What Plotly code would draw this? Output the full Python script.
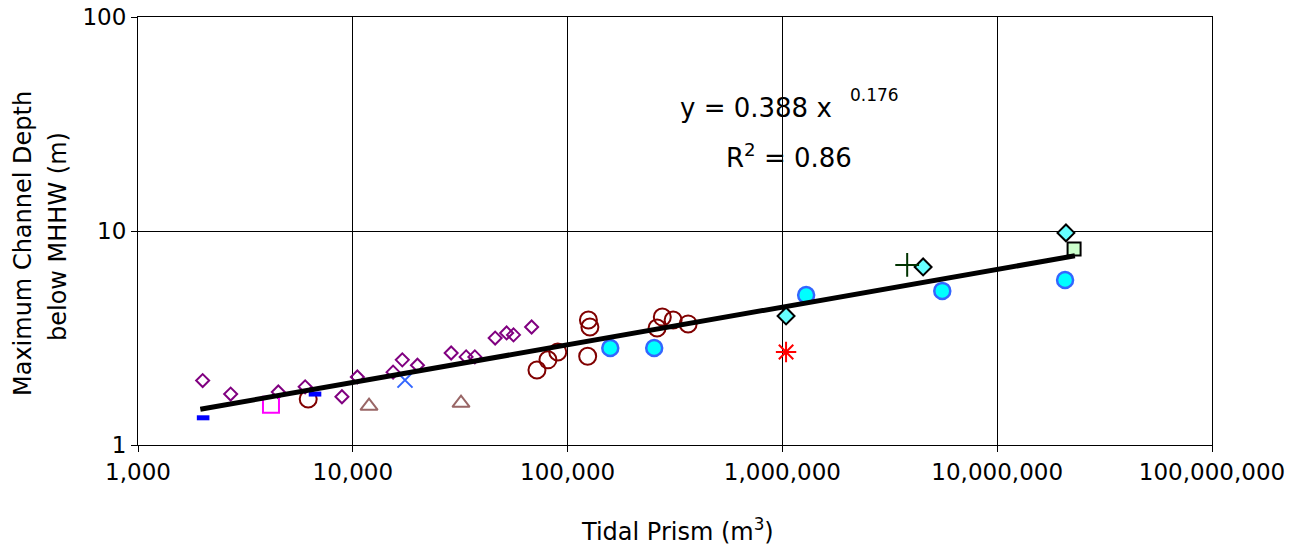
import plotly.graph_objects as go

# ---- data ----
diamond_x = [2000, 2700, 4500, 6000, 8900, 10500, 15400, 17000, 20000, 28700,
             33700, 37000, 46000, 52000, 56000, 68000]
diamond_y = [2.00, 1.73, 1.77, 1.87, 1.68, 2.08, 2.19, 2.50, 2.36, 2.69,
             2.58, 2.58, 3.16, 3.34, 3.27, 3.56]

circle_open_x = [6200, 72000, 81000, 90000, 125000, 127000, 124000, 261000, 276000, 310000, 364000]
circle_open_y = [1.64, 2.24, 2.50, 2.72, 3.84, 3.56, 2.60, 3.52, 3.96, 3.84, 3.68]

cyan_circle_x = [158000, 253000, 1290000, 5550000, 20700000]
cyan_circle_y = [2.84, 2.84, 5.02, 5.25, 5.90]

cyan_diamond_x = [1040000, 4520000, 20900000]
cyan_diamond_y = [4.01, 6.79, 9.80]

dash_x = [2010, 6670]
dash_y = [1.34, 1.73]

magenta_sq_x = [4160]
magenta_sq_y = [1.54]

triangle_x = [11900, 31900]
triangle_y = [1.52, 1.57]

xmark_x = [17500]
xmark_y = [2.01]

plus_x = [3810000]
plus_y = [6.94]

asterisk_x = [1040000]
asterisk_y = [2.72]

green_sq_x = [22800000]
green_sq_y = [8.24]

trend_x = [1950, 23000000]
trend_y = [1.47, 7.66]

x_tickvals = [1e3, 1e4, 1e5, 1e6, 1e7, 1e8]
x_ticktext = ["1,000", "10,000", "100,000", "1,000,000", "10,000,000", "100,000,000"]
y_tickvals = [1, 10, 100]
y_ticktext = ["1", "10", "100"]

FONT = "DejaVu Sans"

fig = go.Figure()

def add(xs, ys, symbol, size, color, lw, lcolor=None):
    fig.add_trace(go.Scatter(
        x=xs, y=ys, mode="markers",
        marker=dict(symbol=symbol, size=size, color=color,
                    line=dict(width=lw, color=lcolor if lcolor else color)),
        showlegend=False, hoverinfo="x+y"))

add(diamond_x, diamond_y, "diamond-open", 10, "#800080", 2)
add(circle_open_x, circle_open_y, "circle-open", 17, "#800000", 2)
add(magenta_sq_x, magenta_sq_y, "square-open", 16, "#ff00ff", 2)
add(triangle_x, triangle_y, "triangle-up-open", 15, "#996666", 2)
add(xmark_x, xmark_y, "x-thin-open", 15, "#3366ff", 2)
add(dash_x, dash_y, "line-ew-open", 9, "#0000ff", 5)
add(cyan_circle_x, cyan_circle_y, "circle", 16, "#00ffff", 2.5, "#3366ff")
add(cyan_diamond_x, cyan_diamond_y, "diamond", 13, "#66ffff", 2, "#000000")
add(plus_x, plus_y, "cross-thin-open", 17, "#003300", 2)
add(asterisk_x, asterisk_y, "asterisk-open", 17, "#ff0000", 2)
add(green_sq_x, green_sq_y, "square", 13, "#ccffcc", 2, "#000000")

fig.add_trace(go.Scatter(x=trend_x, y=trend_y, mode="lines",
                         line=dict(color="black", width=5),
                         showlegend=False, hoverinfo="skip"))

axis_common = dict(type="log", showline=True, linecolor="black", linewidth=1,
                   mirror=True, showgrid=True, gridcolor="black", gridwidth=1,
                   ticks="outside", tickcolor="black", zeroline=False,
                   automargin=False,
                   tickfont=dict(family=FONT, size=23, color="black"))

fig.update_xaxes(range=[3, 8], tickvals=x_tickvals, ticktext=x_ticktext,
                 ticklen=6, **axis_common)
fig.update_yaxes(range=[0, 2], tickvals=y_tickvals, ticktext=y_ticktext,
                 ticklen=6, **axis_common)

W, H = 1299, 554
L, R, T, B = 138, 87, 17, 109
pw, ph = W - L - R, H - T - B

def px(xp):
    return (xp - L) / pw

def py(yp):
    return (H - B - yp) / ph

annotations = [
    dict(text="y = 0.388 x", x=px(756), y=py(108), font=dict(size=26)),
    dict(text="0.176", x=px(874), y=py(95), font=dict(size=17)),
    dict(text="R<sup>2</sup> = 0.86", x=px(789), y=py(156), font=dict(size=26)),
    dict(text="Tidal Prism (m<sup>3</sup>)", x=px(677), y=py(530), font=dict(size=24)),
    dict(text="Maximum Channel Depth", x=px(23), y=py(244), font=dict(size=24), textangle=-90),
    dict(text="below MHHW (m)", x=px(58), y=py(237), font=dict(size=24), textangle=-90),
]
for a in annotations:
    a.update(xref="paper", yref="paper", showarrow=False,
             xanchor="center", yanchor="middle")
    a["font"].update(family=FONT, color="black")

fig.update_layout(width=W, height=H, margin=dict(l=L, r=R, t=T, b=B),
                  paper_bgcolor="white", plot_bgcolor="white",
                  annotations=annotations,
                  font=dict(family=FONT, color="black"))

fig.write_html("out.html")
